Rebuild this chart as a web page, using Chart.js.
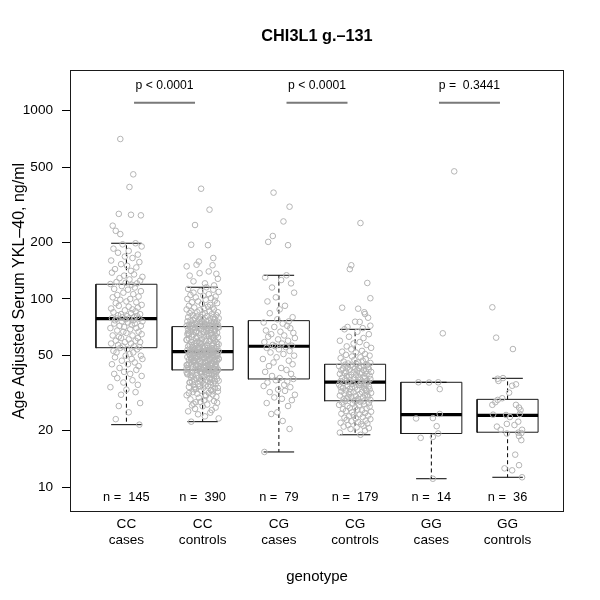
<!DOCTYPE html>
<html><head><meta charset="utf-8">
<script src="https://cdn.jsdelivr.net/npm/chart.js@4.4.1/dist/chart.umd.min.js"></script>
<style>html,body{margin:0;padding:0;background:#fff}#wrap{width:600px;height:600px}</style>
</head><body><div id="wrap"><canvas id="c" width="600" height="600"></canvas></div>
<script>
// ---------- data ----------
const chartTitle = 'CHI3L1 g.–131';
const yTitle = 'Age Adjusted Serum YKL–40, ng/ml';
const xTitle = 'genotype';
const genotypes = ['CC', 'CC', 'CG', 'CG', 'GG', 'GG'];
const groups = ['cases', 'controls', 'cases', 'controls', 'cases', 'controls'];
const nLabels = [145, 390, 79, 179, 14, 36];
const yTicks = [10, 20, 50, 100, 200, 500, 1000];
const whiskerLow = [21.5, 22.3, 15.4, 19.0, 11.1, 11.3];
const q1 = [55.1, 42.0, 37.6, 28.8, 19.3, 19.6];
const medians = [78.6, 52.5, 56.1, 36.2, 24.3, 24.1];
const q3 = [119.7, 71.3, 76.7, 45.0, 36.1, 29.3];
const whiskerHigh = [197.6, 115.4, 133.6, 69.0, 36.1, 37.9];
const comparisons = [[0, 1], [2, 3], [4, 5]];
const pLabels = ['p < 0.0001', 'p < 0.0001', 'p =  0.3441'];

// individual observations (values) and their horizontal jitter (hundredths of a category)
const ccCasesY = [707, 459, 393, 283, 280, 278, 245, 230, 221,
197.6, 195, 190, 185, 180, 176, 172, 168, 165, 160, 157, 153, 150, 147, 144, 141, 138, 135, 133, 131, 129, 127, 125, 123, 122, 121, 120,
119, 117, 115, 113, 112, 110, 108, 106, 105, 103, 102, 100, 99, 97, 96, 95, 93, 92, 91, 90, 89, 88, 87, 86, 85, 84, 83, 83, 82, 81, 81, 80, 80, 79, 79, 78.8,
78.6,
78, 77, 77, 76, 76, 75, 74, 74, 73, 72, 72, 71, 70, 70, 69, 68, 67, 67, 66, 65, 64, 64, 63, 62, 62, 61, 60, 60, 59, 59, 58, 58, 57, 56, 56, 55.5,
55, 54, 54, 53, 52, 52, 51, 50, 50, 49, 48, 48, 47, 46, 45, 45, 44, 43, 42, 41, 40, 40, 39, 38, 37, 36, 35, 34, 33, 32, 31, 28, 27, 25, 23, 21.5];
const ccCasesJit = [-8, 9, 4, -10, 6, 19, -18, -14, -8,
12, -5, 20, -17, 3, -11, 15, -2, 8, -20, 17, -7, 1, 13, -15, 6, -19, 10, -3, 21,
-9, 4, 18, -13, -1, 14, -21, 7, -6, 11, -16, 2, 19, -4, 9, -12, 16, -18, 5, -8,
0, 13, -14, 20, -10, 3, 15, -20, 8, -2, 12, -17, 6, -7, 18, -11, 1, 14, -5, 10,
-19, 4, -13, 17, -1, 9, -15, 21, -6, 2, 11, -16, 7, -9, 19, -3, 13, -21, 5, -12,
16, -4, 0, 20, -18, 8, -10, 15, -7, 3, -14, 12, -2, 18, -20, 6, -11, 10, -5, 17,
-8, 1, 14, -17, 9, -13, 4, 19, -1, -15, 7, 21, -6, 11, -19, 2, 16, -9, 13, -3,
5, -16, 20, -12, 8, -4, 15, -21, 0, 12, -7, 18, -10, 3, -14, 17];

const ccCtrlY = [385, 298, 247, 194, 193, 165, 158, 152, 151, 149, 140, 137, 136, 133, 128, 124, 121, 118,
115.4, 113, 112, 110, 109, 108, 106, 105, 104, 103, 102, 101, 100, 99, 98, 97, 96, 95, 94, 93,
92, 91, 90, 90, 89, 88, 88, 87, 86, 86, 85, 85, 84, 84, 83, 83, 82, 82, 81, 81,
80, 80, 80, 79, 79, 79, 78, 78, 78, 77, 77, 77, 76, 76, 76, 76, 75, 75, 75, 75,
74, 74, 74, 74, 73, 73, 73, 73, 73, 72, 72, 72, 72, 72, 72, 71.8, 71.6, 71.5, 71.4,
71, 71, 70.5, 70, 70, 69.5, 69, 69, 68.5, 68, 68, 67.5, 67, 67, 66.5, 66, 66, 65.5, 65, 65,
64.5, 64, 64, 63.5, 63, 63, 62.5, 62, 62, 61.5, 61, 61, 60.5, 60, 60, 59.5, 59.5, 59, 59, 58.5,
58.5, 58, 58, 57.5, 57.5, 57, 57, 56.5, 56.5, 56, 56, 55.5, 55.5, 55, 55, 55, 54.5, 54.5, 54.5, 54,
54, 54, 53.5, 53.5, 53.5, 53, 53, 53, 52.8, 52.6, 70.8, 69.8, 68.8, 67.8, 66.8, 65.8, 64.8, 63.8, 62.8, 61.8,
60.8, 59.8, 58.8, 57.8, 56.8, 55.8, 54.8, 53.8, 52.9, 52.7, 70.2, 66.2, 62.2, 58.2, 55.2, 53.2, 52.6,
52.5, 52.5,
52.4, 52.2, 52, 51.8, 51.6, 51.4, 51.2, 51, 50.8, 50.6, 50.4, 50.2, 50, 49.8, 49.6, 49.4, 49.2, 49, 48.8, 48.6,
48.4, 48.2, 48, 47.8, 47.6, 47.4, 47.2, 47, 46.8, 46.6, 46.4, 46.2, 46, 45.8, 45.6, 45.4, 45.2, 45, 44.8, 44.6,
44.4, 44.2, 44, 43.8, 43.6, 43.4, 43.2, 43, 42.8, 42.6, 42.4, 42.2, 52.1, 51.5, 50.5, 49.5, 48.5, 47.5, 46.5, 45.5,
44.5, 43.5, 42.5, 51.9, 50.9, 49.9, 48.9, 47.9, 46.9, 45.9, 44.9, 43.9, 42.9, 51.3, 50.3, 49.3, 48.3, 47.3, 46.3, 45.3,
44.3, 43.3, 42.3, 51.7, 50.7, 49.7, 48.7, 47.7, 46.7, 45.7, 44.7, 43.7, 42.7, 42.1, 42.05, 42, 42,
41.8, 41.5, 41.2, 41, 40.7, 40.4, 40.1, 39.8, 39.5, 39.2, 38.9, 38.6, 38.3, 38, 37.7, 37.4, 37.1, 36.8, 36.5, 36.2,
35.9, 35.6, 35.3, 35, 34.7, 34.4, 34.1, 33.8, 33.5, 33.2, 32.9, 32.6, 32.3, 32, 31.7, 31.4, 31.1, 30.8, 30.5, 30.2,
29.9, 29.6, 29.3, 29, 28.7, 28.4, 28.1, 27.8, 27.5, 27.2, 26.9, 26.5, 26.1, 25.7, 25.3, 24.9, 24.4, 23.8, 23.2, 22.3,
41.6, 41.1, 40.6, 40.2, 39.7, 39.1, 38.7, 38.1, 37.6, 37.2, 36.6, 36.1, 35.5, 34.9, 34.3, 33.7, 33.1, 32.4, 31.6, 30.9,
41.9, 41.4, 40.9, 40.3, 39.4, 38.5, 37.5, 36.4, 35.2, 34, 41.7, 40.8, 39.9, 38.2, 36.9, 32.8, 28.3];
const ccCtrlJit = [-2, 9, -10, -15, 7, 14, -5, -8, 13, -21, 8, -4, 18, -17, 20, -12, 3, 15,
5, -19, 14, -3, 21, -12, 8, -16, 1, 17, -9, 11, -20, 4, 16, -6, -14, 19, -1, 10,
-18, 7, 13, -11, 2, -21, 15, -4, 9, -15, 20, -7, 3, -17, 12, 0, -13, 18, -8, 6,
-2, 14, -19, 10, -10, 21, -5, 1, 16, -16, 8, -12, 19, -1, 5, -20, 11, -7, 15, -3,
-14, 17, 2, -9, 13, -18, 6, 20, -11, 4, 12, -6, -21, 9, -15, 18, 0, -4, 14, -17,
3, 21, -10, 7, -13, 16, -2, 11, -19, 5, -8, 15, -16, 1, 19, -5, 10, -20, 6, -12,
17, -3, 8, -14, 2, 20, -9, 13, -18, -1, 11, -21, 4, 16, -7, 9, -15, 18, -4, 0,
-11, 14, -2, 21, -17, 6, 12, -8, 3, -19, 19, -13, 7, -5, 15, -10, 1, 17, -16, 10,
-6, 4, -20, 13, -1, 18, -12, 8, -3, 20, -15, 2, 16, -9, 11, -18, 5, -7, 14, -21,
9, -4, 19, -14, 0, 12, -11, 21, -2, 6, -19, 15, -8, 3, 17, -13, 10, -16, 7, -5,
13, -10, 1, 20, -6, 8, -17, 4, 18, -1, -12, 16, -3, 11, -20, 5, 14, -9, 2, -15,
21, -7, 9, -18, 6, 19, -4, -11, 15, 0, -16, 3, 12, -2, 17, -14, 7, -21, 10, -6,
4, -9, 18, -13, 1, 14, -19, 8, -5, 20, -1, 11, -17, 6, -10, 16, -3, 13, -20, 2,
15, -8, 0, 19, -15, 9, -12, 5, 17, -4, -21, 10, 7, -6, 21, -11, 3, -18, 12, -2,
6, -16, 14, -7, 2, 18, -13, 11, -9, 16, -5, 20, -10, 1, 13, -19, 8, -3, 4, -14,
17, -1, -20, 12, -8, 15, 0, -15, 9, 19, -11, 5, 21, -4, 10, -17, 14, -6, -12, 3,
7, -18, 1, 16, -9, 11, -2, 20, -13, 8, -7, 13, -21, 4, 18, -5, 9, -16, 2, 15,
-3, 19, -12, 6, -14, 0, 17, -10, 12, -19, 10, -6, 3, 21, -15, 7, -1, 14, -20, 5,
-13, 18, -8, 9, -2, 16, -17, 1, 11, -4, 20, -11, 13, -18, 4, -7, 19, -3, 8, -16,
2, 12, -14, 17, -10, 6, -21, 15, -5, 0, 11, -9];

const cgCasesY = [367, 309, 258, 216, 201, 193,
133.6, 130, 126, 121, 115, 108, 102, 97, 92, 88, 84, 80, 78,
76, 75, 74, 72, 71, 70, 68, 67, 66, 65, 64, 63, 62, 61, 60, 59, 58, 57, 56.5,
56.1,
55.5, 55, 54, 53, 52, 51, 50, 49, 48, 47, 46, 45, 44, 43, 42, 41, 40, 39, 38,
37.6, 37, 36.5, 36, 35, 34.5, 34, 33, 32.5, 32, 31, 30, 29.5, 29, 28, 27, 25, 24.5, 22.5, 20.4, 15.4];
const cgCasesJit = [-7, 14, 6, -8, -14, 12,
10, -18, 3, 16, -9, 20, -4, -15, 8, 1, -12, 18, -2, 13, -20, 5, 11, -6, 15, -17,
2, 19, -10, 7, -14, 21, -1, 12, -19, 4, -8, 17, -5, 9, -16, 0, 14, -11, 6, 20,
-3, -21, 13, -7, 18, -13, 3, 10, -18, 16, -9, 1, 19, -4, 11, -15, 7, -20, 15, -1,
8, -12, 21, -6, 4, 17, -16, 12, -2, -10, 5, 14, -19];

const cgCtrlY = [253, 151, 144, 121.6, 100.9, 89.9, 88.8, 85, 83.2, 79.5, 75.7, 75.5, 72.1, 71, 70,
69, 67, 65, 63, 62, 60, 59, 58, 57, 56, 55, 54, 53, 52.5, 52, 51, 50.5, 50, 49.5, 49, 48.5, 48, 47.5, 47, 46.5, 46, 45.7, 45.4, 45.1,
44.8, 44.6, 44.4, 44.2, 44, 43.8, 43.6, 43.4, 43.2, 43, 42.8, 42.6, 42.4, 42.2, 42, 41.8, 41.6, 41.4, 41.2, 41, 40.8, 40.6,
40.4, 40.2, 40, 39.8, 39.6, 39.4, 39.2, 39, 38.8, 38.6, 38.4, 38.2, 38, 37.8, 37.6, 37.4, 37.2, 37, 36.8, 36.6, 36.4, 36.3,
36.2,
36.1, 35.9, 35.7, 35.5, 35.3, 35.1, 34.9, 34.7, 34.5, 34.3, 34.1, 33.9, 33.7, 33.5, 33.3, 33.1, 32.9, 32.7, 32.5, 32.3,
32.1, 31.9, 31.7, 31.5, 31.3, 31.1, 30.9, 30.7, 30.5, 30.3, 30.1, 29.9, 29.7, 29.5, 29.3, 29.1, 28.9, 35, 34, 33, 32, 31, 30, 29,
28.8, 28.6, 28.4, 28.2, 28, 27.8, 27.6, 27.4, 27.2, 27, 26.8, 26.6, 26.4, 26.2, 26, 25.8, 25.6, 25.4, 25.2, 25,
24.8, 24.6, 24.4, 24.2, 24, 23.8, 23.6, 23.4, 23.2, 23, 22.8, 22.6, 22.4, 22.2, 22, 21.8, 21.6, 21.4, 21.2, 21,
20.8, 20.6, 20.4, 20, 19.5, 19];
const cgCtrlJit = [7, -5, -7, 16, 20, -17, 4, 12, 13, 17, 0, 6, 20, -10, 10,
-14, 3, 18, -8, 11, -20, 6, -2, 15, -11, 21, -5, 9, -17, 1, 13, -12, 19, -4, 7,
-19, 14, -1, 10, -15, 4, 20, -9, 2, -13, 16, -6, 12, -21, 8, -3, 17, -10, 5, -16,
0, 18, -7, 11, -18, 3, 14, -12, 21, -2, 9, -14, 6, -20, 15, -5, 1, 19, -11, 12,
-8, 4, -17, 13, -1, 20, -13, 7, -6, 16, -19, 10, 2, -9, 17, -15, 8, -3, 14, -21,
5, 11, -10, 18, -4, 0, -16, 12, -7, 19, 3, -12, 15, -18, 9, -2, 21, -14, 6, -8,
13, -20, 1, 17, -5, 10, -11, 4, -15, 20, -1, 8, -19, 14, -6, 16, -9, 2, -13, 11,
7, -17, 18, -3, 12, -21, 5, -10, 19, 0, -7, 15, -16, 3, 9, -12, 21, -4, 13, -18,
6, -2, 17, -8, 10, -14, 1, 20, -11, 14, -5, 4, -19, 16, 8, -9, 11, -15, 2, 18,
-6, 13, -20, 7];

const ggCasesY = [476, 65.7, 36.1, 36, 36.1, 33.2, 24.5, 23.2, 23.3, 21.1, 19.3, 18.5, 18.3, 11.1];
const ggCasesJit = [30, 15, -17, -3, 9, 11, 11, -20, 2, 7, 9, 2, -14, 2];

const ggCtrlY = [90.3, 62.3, 54.2, 37.7, 38, 36.7, 34.6, 35.2, 31.8, 29.7, 29.1, 28.3, 27.4, 27.4, 26.5, 25.7, 24.3, 24.2,
23.6, 24.5, 22.3, 21.7, 21.4, 21, 20.2, 20.2, 19.5, 19.4, 19.3, 18.7, 17.8, 14.9, 12.6, 12.3, 13.1, 11.3];
const ggCtrlJit = [-20, -15, 7, -13, -6, -12, 6, 11, 2, -7, -13, -16, -20, 11, 15, 17, -19, -2,
3, 16, 14, -1, 9, -14, -9, 19, 14, 18, -1, 15, 18, 10, -4, 6, 15, 19];

const groupValues = [ccCasesY, ccCtrlY, cgCasesY, cgCtrlY, ggCasesY, ggCtrlY];
const groupJitter = [ccCasesJit, ccCtrlJit, cgCasesJit, cgCtrlJit, ggCasesJit, ggCtrlJit];

// ---------- layout / style ----------
const F = '"Liberation Sans", Arial, Helvetica, sans-serif';
const xPos = [1, 2, 3, 4, 5, 6];
const HALF_BOX = 0.4, HALF_CAP = 0.2;
const pBarValue = 1103, pTextValue = 1352, nTextValue = 8.8;
const GAP = {x: null, y: null};

const boxPts = [], medPts = [], whiskPts = [], capPts = [], pBarPts = [];
xPos.forEach((p, i) => {
  boxPts.push({x: p - HALF_BOX, y: q1[i]}, {x: p + HALF_BOX, y: q1[i]}, {x: p + HALF_BOX, y: q3[i]},
              {x: p - HALF_BOX, y: q3[i]}, {x: p - HALF_BOX, y: q1[i]}, GAP);
  medPts.push({x: p - HALF_BOX, y: medians[i]}, {x: p + HALF_BOX, y: medians[i]}, GAP);
  whiskPts.push({x: p, y: q3[i]}, {x: p, y: whiskerHigh[i]}, GAP, {x: p, y: q1[i]}, {x: p, y: whiskerLow[i]}, GAP);
  capPts.push({x: p - HALF_CAP, y: whiskerHigh[i]}, {x: p + HALF_CAP, y: whiskerHigh[i]}, GAP,
              {x: p - HALF_CAP, y: whiskerLow[i]}, {x: p + HALF_CAP, y: whiskerLow[i]}, GAP);
});
comparisons.forEach(([a, b]) => {
  pBarPts.push({x: xPos[a] + 0.1, y: pBarValue}, {x: xPos[b] - 0.1, y: pBarValue}, GAP);
});

const lineDs = (data, extra) => Object.assign({
  type: 'scatter', data, showLine: true, spanGaps: false, pointRadius: 0, tension: 0,
  borderColor: '#000', borderWidth: 1, fill: false, order: 2
}, extra);

const datasets = [];
groupValues.forEach((vals, i) => {
  datasets.push({
    type: 'scatter',
    data: vals.map((v, k) => ({x: xPos[i] + groupJitter[i][k] / 100, y: v})),
    pointRadius: 2.8, pointBorderWidth: 1, pointBorderColor: '#b4b4b4',
    pointBackgroundColor: 'rgba(0,0,0,0)', showLine: false, order: 0
  });
});
datasets.push(lineDs(whiskPts, {borderDash: [4, 3]}));
datasets.push(lineDs(capPts, {}));
datasets.push(lineDs(boxPts, {borderCapStyle: 'square', borderColor: '#1a1a1a'}));
datasets.push(lineDs(medPts, {borderWidth: 3.2, order: 1}));
datasets.push(lineDs(pBarPts, {borderColor: '#7a7a7a', borderWidth: 2}));

const overlay = {
  id: 'overlay',
  afterDraw(chart) {
    const {ctx, chartArea: a, scales: {x, y}} = chart;
    ctx.save();
    ctx.fillStyle = '#000';
    ctx.textAlign = 'center';
    ctx.textBaseline = 'middle';
    ctx.font = 'bold 16.3px ' + F;
    ctx.fillText(chartTitle, (a.left + a.right) / 2, 37);
    ctx.font = '12.2px ' + F;
    comparisons.forEach(([i, j], k) => {
      ctx.fillText(pLabels[k], x.getPixelForValue((xPos[i] + xPos[j]) / 2), y.getPixelForValue(pTextValue));
    });
    ctx.font = '12.8px ' + F;
    xPos.forEach((p, i) => {
      ctx.fillText('n =  ' + nLabels[i], x.getPixelForValue(p), y.getPixelForValue(nTextValue));
    });
    ctx.strokeStyle = '#1a1a1a';
    ctx.lineWidth = 1;
    ctx.strokeRect(Math.round(a.left) + 0.5, Math.round(a.top) + 0.5,
                   Math.round(a.right - a.left) - 1, Math.round(a.bottom - a.top) - 1);
    ctx.restore();
  }
};

Chart.defaults.font.family = F;
Chart.defaults.color = '#000';

new Chart(document.getElementById('c'), {
  type: 'scatter',
  data: {datasets},
  options: {
    responsive: false, animation: false, devicePixelRatio: 1, events: [],
    layout: {padding: {left: 0, right: 36, top: 70, bottom: 0}},
    plugins: {legend: {display: false}, tooltip: {enabled: false}, title: {display: false}},
    scales: {
      x: {
        type: 'linear', min: 0.26, max: 6.74,
        afterBuildTicks: s => { s.ticks = xPos.map(v => ({value: v})); },
        afterFit: s => { s.height = 88; },
        grid: {display: false, drawTicks: false},
        border: {display: false},
        ticks: {padding: 4, autoSkip: false, maxRotation: 0, minRotation: 0,
                font: {size: 13.6, family: F}, color: '#000',
                callback: (v, i) => [genotypes[i], groups[i]]},
        title: {display: true, text: xTitle, color: '#000', font: {size: 15, family: F},
                padding: {top: 0, bottom: 14}}
      },
      y: {
        type: 'logarithmic', min: 7.39, max: 1644,
        afterBuildTicks: s => { s.ticks = yTicks.map(v => ({value: v})); },
        afterFit: s => { s.width = 70; },
        grid: {display: true, drawOnChartArea: false, drawTicks: true, tickLength: 8, color: '#000', lineWidth: 1},
        border: {display: false},
        ticks: {padding: 9, autoSkip: false, font: {size: 13.6, family: F}, color: '#000',
                callback: v => String(v)},
        title: {display: true, text: yTitle, color: '#000', font: {size: 16, family: F},
                padding: {top: 10, bottom: 0}}
      }
    }
  },
  plugins: [overlay]
});
</script>
</body></html>
